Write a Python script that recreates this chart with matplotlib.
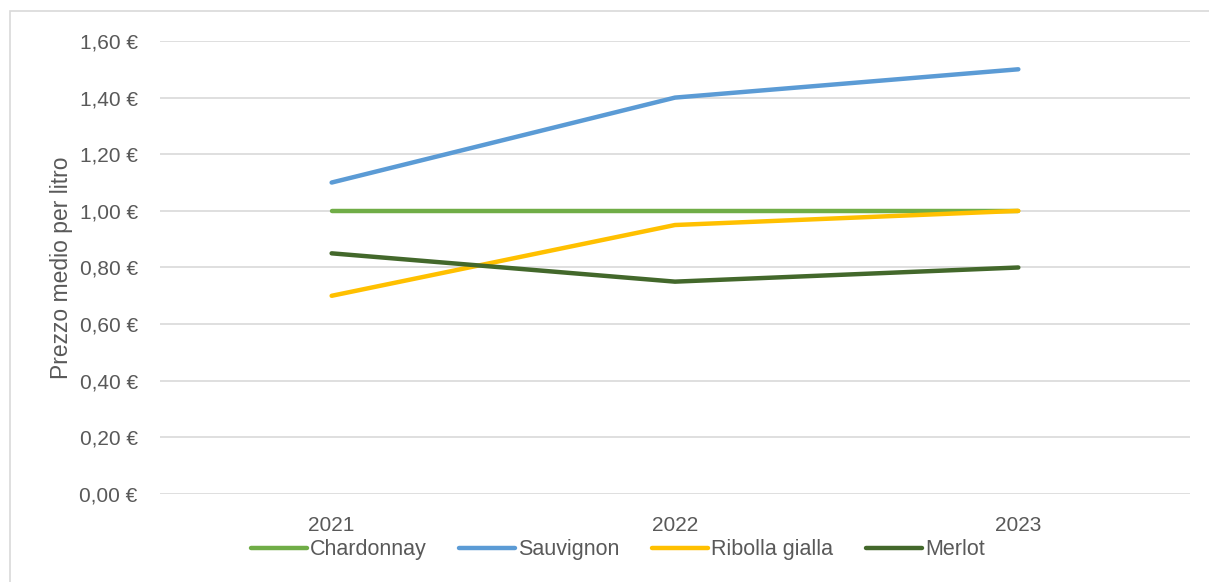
import matplotlib.pyplot as plt
from matplotlib.patches import Rectangle
from matplotlib.ticker import FuncFormatter

plt.rcParams["font.family"] = ["Liberation Sans", "DejaVu Sans"]

years = ["2021", "2022", "2023"]
chardonnay = [1.00, 1.00, 1.00]
sauvignon = [1.10, 1.40, 1.50]
ribolla = [0.70, 0.95, 1.00]
merlot = [0.85, 0.75, 0.80]

series = [
    ("Chardonnay", chardonnay, "#70AD47"),
    ("Sauvignon", sauvignon, "#5B9BD5"),
    ("Ribolla gialla", ribolla, "#FFC000"),
    ("Merlot", merlot, "#43682B"),
]

text_color = "#595959"

fig = plt.figure(figsize=(12.09, 5.82), dpi=100)
ax = fig.add_axes([0.1323, 0.1512, 0.852, 0.7784])

x = list(range(len(years)))
for name, vals, col in series:
    ax.plot(x, vals, color=col, lw=3.2, label=name, solid_capstyle="round")

ax.set_xlim(-0.5, 2.5)
ax.set_ylim(0, 1.6)
ax.set_yticks([i * 0.2 for i in range(9)])
ax.yaxis.set_major_formatter(FuncFormatter(lambda v, p: "{:.2f} €".format(v).replace(".", ",")))
ax.set_xticks(x)
ax.set_xticklabels(years)
ax.grid(axis="y", color="#D9D9D9", lw=1.2)
ax.set_axisbelow(True)
for s in ax.spines.values():
    s.set_visible(False)
ax.tick_params(length=0, labelsize=15, colors=text_color)
ax.tick_params(axis="y", pad=16)
ax.tick_params(axis="x", pad=16)
ax.set_ylabel("Prezzo medio per litro", fontsize=16.5, color=text_color, labelpad=5)

fig.legend(loc="center", bbox_to_anchor=(0.511, 0.055), ncol=4, frameon=False,
           fontsize=15.5, labelcolor=text_color, handlelength=2.6, handletextpad=0.15,
           columnspacing=1.5, borderpad=0)

fig.patches.append(Rectangle((0.008, -0.05), 1.05, 1.031, transform=fig.transFigure,
                             fill=False, edgecolor="#D9D9D9", lw=1.2))

fig.savefig("out.png", dpi=100)
